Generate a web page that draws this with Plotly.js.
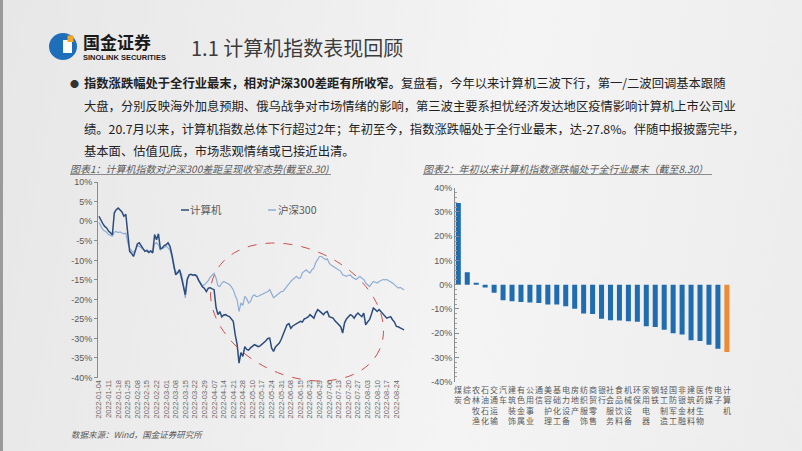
<!DOCTYPE html>
<html><head><meta charset="utf-8">
<script src="https://cdn.plot.ly/plotly-3.0.1.min.js"></script>
<style>
html,body{margin:0;padding:0;width:802px;height:451px;overflow:hidden;}
body{background:linear-gradient(100deg,#e7e7e7 0%,#eeeeee 35%,#f4f4f4 60%,#ececec 100%);position:relative;}
#strip{position:absolute;left:0;top:0;width:3px;height:451px;background:#9a9a9a;}
#chart{position:absolute;left:0;top:0;width:802px;height:451px;}
</style></head><body><div id="strip"></div><div id="chart"></div>
<script>
// ---------- data ----------
const dateTicks = ['2022-01-04','2022-01-11','2022-01-18','2022-01-25','2022-02-08','2022-02-15','2022-02-22','2022-03-01','2022-03-08','2022-03-15','2022-03-22','2022-03-29','2022-04-07','2022-04-14','2022-04-21','2022-04-28','2022-05-10','2022-05-17','2022-05-24','2022-05-31','2022-06-08','2022-06-15','2022-06-22','2022-06-29','2022-07-06','2022-07-13','2022-07-20','2022-07-27','2022-08-03','2022-08-10','2022-08-17','2022-08-24'];
const tradingDaysPerTick = 5;

const computerIdx = [
 1.3, 0.2, -0.6, -1.3, -1.7, -2.5, -3.0, -3.4, 2.2, 3.0,
 3.4, 3.0, 2.4, 1.3, 1.8, -3.0, -7.7, -8.2, -9.0, -7.5,
 -5.8, -5.5, -6.4, -7.0, -7.7, -7.5, -8.0, -7.6, -8.1, -3.4,
 -4.7, -3.2, -7.0, -6.8, -6.2, -6.0, -5.5, -6.4, -8.5, -11.5,
 -13.7, -13.2, -12.4, -14.5, -16.5, -18.8, -14.8, -13.7, -13.6, -13.8,
 -13.7, -14.1, -15.2, -16.2, -16.8, -17.2, -18.0, -17.1, -17.0, -17.3,
 -17.5, -22.0, -23.9, -23.1, -24.5, -24.0, -23.9, -24.2, -24.4, -25.0,
 -25.6, -29.0, -31.5, -36.3, -33.6, -34.6, -32.1, -32.8, -33.0, -32.4,
 -32.0, -31.6, -31.8, -32.1, -31.9, -31.5, -31.2, -30.6, -30.0, -29.9,
 -32.5, -33.3, -32.2, -31.8, -31.2, -30.2, -29.0, -27.5, -26.5, -26.2,
 -27.4, -26.8, -26.5, -26.3, -26.0, -25.6, -25.8, -25.0, -24.8, -24.5,
 -23.9, -24.3, -24.8, -23.5, -22.6, -23.0, -23.4, -23.9, -23.3, -23.1,
 -24.4, -24.6, -24.8, -25.5, -26.0, -26.5, -27.0, -28.6, -26.0, -25.0,
 -24.4, -23.9, -24.2, -24.8, -24.0, -23.5, -24.0, -24.4, -23.5, -26.5,
 -25.8, -25.2, -23.8, -22.2, -22.6, -23.1, -22.6, -23.2, -23.9, -24.4,
 -24.8, -24.6, -24.4, -25.2, -25.8, -26.9, -27.0, -27.3, -27.5, -27.8];

const hs300Idx = [
 -0.3, -1.2, -2.1, -2.5, -2.8, -3.4, -3.6, -3.8, -2.8, -2.6,
 -2.9, -2.7, -3.0, -3.2, -3.0, -5.5, -7.0, -7.5, -8.0, -7.3,
 -6.2, -6.4, -6.8, -7.3, -7.6, -7.3, -7.8, -7.5, -8.0, -5.8,
 -5.5, -6.0, -7.3, -7.0, -6.6, -6.4, -6.8, -7.4, -9.0, -12.0,
 -12.8, -13.3, -12.6, -13.5, -16.0, -19.6, -15.2, -13.7, -13.5, -13.9,
 -13.6, -13.8, -15.0, -15.9, -16.6, -16.2, -15.8, -15.2, -14.3, -13.7,
 -13.3, -14.5, -16.5, -16.7, -15.8, -15.4, -15.6, -15.9, -16.2, -16.8,
 -17.5, -19.0, -20.1, -23.1, -20.9, -21.5, -19.2, -19.8, -20.9, -20.5,
 -19.2, -18.8, -19.3, -19.2, -19.0, -18.8, -18.6, -18.4, -18.0, -17.5,
 -18.6, -19.6, -19.2, -18.8, -18.4, -18.0, -17.9, -17.2, -16.7, -16.0,
 -15.4, -14.9, -14.5, -14.1, -14.6, -14.5, -13.2, -12.8, -12.4, -12.9,
 -13.2, -12.4, -12.0, -10.5, -9.8, -9.0, -9.0, -9.4, -9.8, -9.6,
 -10.7, -11.2, -11.5, -11.8, -12.0, -12.4, -12.8, -13.7, -13.9, -14.1,
 -13.8, -13.7, -14.3, -14.5, -14.9, -14.5, -14.1, -14.6, -14.9, -15.8,
 -16.2, -16.7, -16.0, -15.4, -15.6, -15.8, -15.4, -15.1, -14.9, -15.0,
 -14.9, -15.2, -15.4, -15.8, -16.2, -16.7, -17.1, -16.9, -17.3, -17.6];

const leftYTicks = [10, 5, 0, -5, -10, -15, -20, -25, -30, -35, -40];

const industries = ['煤炭','综合','农林牧渔','石油石化','交通运输','汽车','建筑装饰','有色金属','公用事业','通信','美容护理','基础化工','电力设备','房地产','纺织服饰','商贸零售','银行','社会服务','食品饮料','机械设备','环保','家用电器','钢铁','轻工制造','国防军工','非银金融','建筑材料','医药生物','传媒','电子','计算机'];
const industryChg = [33.7, 5.1, 0.8, -1.2, -3.3, -6.4, -6.8, -7.1, -7.3, -7.5, -8.2, -8.2, -8.9, -9.9, -11.9, -12.1, -14.0, -14.7, -14.8, -15.1, -15.3, -17.1, -17.4, -18.6, -20.0, -20.5, -22.9, -23.2, -24.8, -26.4, -27.8];
const rightYTicks = [40, 30, 20, 10, 0, -10, -20, -30, -40];

// ---------- helpers (pixel -> paper) ----------
const W = 802, H = 451;
const P = x => x / W;
const Q = y => 1 - y / H;
const CJK = 'Noto Sans CJK SC, Noto Sans, sans-serif';
const LAT = 'Liberation Sans, Arial, sans-serif';

const dayIdx = computerIdx.map((_, i) => i);
const blue = '#1f6cb0', orange = '#ef8a35';

const traces = [
  {x: dayIdx, y: hs300Idx, type: 'scatter', mode: 'lines', name: '沪深300',
   line: {color: '#8eadd6', width: 1.2}, xaxis: 'x', yaxis: 'y', hoverinfo: 'skip'},
  {x: dayIdx, y: computerIdx, type: 'scatter', mode: 'lines', name: '计算机',
   line: {color: '#2b4c7e', width: 1.5}, xaxis: 'x', yaxis: 'y', hoverinfo: 'skip'},
  {x: industries, y: industryChg, type: 'bar', xaxis: 'x2', yaxis: 'y2',
   marker: {color: industries.map(n => n === '计算机' ? orange : blue)}, hoverinfo: 'skip'}
];

const annotations = [];
const shapes = [];
function txt(text, x, y, size, opts = {}) {
  annotations.push(Object.assign({
    text, x: P(x), y: Q(y), xref: 'paper', yref: 'paper', showarrow: false,
    xanchor: 'left', yanchor: 'middle', borderpad: 0,
    font: {family: opts.family || CJK, size, color: opts.color || '#262626'}
  }, opts.extra || {}));
}

// header
shapes.push({type: 'circle', xref: 'paper', yref: 'paper', x0: P(49), x1: P(77), y0: Q(60), y1: Q(33), fillcolor: '#1e6fba', line: {width: 0}});
shapes.push({type: 'rect', xref: 'paper', yref: 'paper', x0: P(63), x1: P(72), y0: Q(53), y1: Q(40), fillcolor: '#ffffff', line: {width: 0}});
shapes.push({type: 'rect', xref: 'paper', yref: 'paper', x0: P(67.5), x1: P(73.5), y0: Q(42), y1: Q(35.5), fillcolor: '#f5a623', line: {width: 0}});
txt('<b>国金证券</b>', 82, 41, 17, {color: '#1a1a1a'});
txt('<b>SINOLINK SECURITIES</b>', 82, 57.5, 7.5, {color: '#1a1a1a', family: LAT});
txt('1.1 计算机指数表现回顾', 190, 47, 20, {color: '#3c3c3c'});

// paragraph
txt('●', 69, 83, 9, {color: '#333'});
const para = [
  '<b>指数涨跌幅处于全行业最末，相对沪深300差距有所收窄。</b>复盘看，今年以来计算机三波下行，第一/二波回调基本跟随',
  '大盘，分别反映海外加息预期、俄乌战争对市场情绪的影响，第三波主要系担忧经济发达地区疫情影响计算机上市公司业',
  '绩。20.7月以来，计算机指数总体下行超过2年；年初至今，指数涨跌幅处于全行业最末，达-27.8%。伴随中报披露完毕，',
  '基本面、估值见底，市场悲观情绪或已接近出清。'
];
const paraY = [83.3, 106, 128.5, 150.5];
para.forEach((t, i) => txt(t, 83, paraY[i], 12.3, {color: '#222'}));

// chart titles
txt('<i>图表1：计算机指数对沪深300差距呈现收窄态势(截至8.30)</i>', 69, 168, 10, {color: '#595959'});
txt('<i>图表2：年初以来计算机指数涨跌幅处于全行业最末（截至8.30）</i>', 422, 168, 10, {color: '#595959'});
shapes.push({type: 'line', xref: 'paper', yref: 'paper', x0: P(70), x1: P(331), y0: Q(174.5), y1: Q(174.5), line: {color: '#8c8c8c', width: 1}});
shapes.push({type: 'line', xref: 'paper', yref: 'paper', x0: P(423), x1: P(712), y0: Q(174.5), y1: Q(174.5), line: {color: '#8c8c8c', width: 1}});

// source
txt('<i>数据来源：Wind，国金证券研究所</i>', 70, 434, 8.5, {color: '#595959'});

// custom legend for left chart
shapes.push({type: 'line', xref: 'paper', yref: 'paper', x0: P(181), x1: P(189), y0: Q(210), y1: Q(210), line: {color: '#2b4c7e', width: 1.5}});
shapes.push({type: 'line', xref: 'paper', yref: 'paper', x0: P(268), x1: P(276), y0: Q(210), y1: Q(210), line: {color: '#8eadd6', width: 1.5}});
txt('计算机', 189, 210, 10.5, {color: '#595959'});
txt('沪深300', 276.5, 210, 10.5, {color: '#595959'});

// red dashed ellipse (highlight)
(function () {
  const cx = 297, cy = 312, a = 90.7, b = 63.4, th = 24.8 * Math.PI / 180;
  let d = '';
  for (let k = 0; k <= 72; k++) {
    const t = k / 72 * 2 * Math.PI;
    const X = cx + a * Math.cos(t) * Math.cos(th) - b * Math.sin(t) * Math.sin(th);
    const Y = cy + a * Math.cos(t) * Math.sin(th) + b * Math.sin(t) * Math.cos(th);
    d += (k === 0 ? 'M' : 'L') + P(X).toFixed(5) + ',' + Q(Y).toFixed(5) + ' ';
  }
  shapes.push({type: 'path', xref: 'paper', yref: 'paper', path: d + 'Z', line: {color: '#c9504c', width: 1, dash: 'dash'}});
})();

// vertical category labels for right chart (one stacked label per industry)
industries.forEach(name => {
  annotations.push({text: Array.from(name).join('<br>'), x: name, xref: 'x2', y: Q(383), yref: 'paper',
    showarrow: false, xanchor: 'center', yanchor: 'top', borderpad: 0,
    font: {family: CJK, size: 8, color: '#595959'}});
});

const layout = {
  width: W, height: H, margin: {l: 0, r: 0, t: 0, b: 0},
  paper_bgcolor: 'rgba(0,0,0,0)', plot_bgcolor: 'rgba(0,0,0,0)',
  showlegend: false,
  xaxis: {domain: [P(98), P(405)], range: [-0.5, 159.5], tickmode: 'array',
    tickvals: dateTicks.map((_, i) => i * tradingDaysPerTick), ticktext: dateTicks,
    tickangle: -90, tickfont: {family: LAT, size: 7.5, color: '#666666'},
    showgrid: false, zeroline: false, showline: false, ticks: '', anchor: 'y'},
  yaxis: {domain: [Q(377.5), Q(182.3)], range: [-40, 10], tickmode: 'array',
    tickvals: leftYTicks, ticktext: leftYTicks.map(v => v + '%'),
    tickfont: {family: LAT, size: 9, color: '#595959'},
    showgrid: false, zeroline: false, showline: true, linecolor: '#8c8c8c', linewidth: 1,
    ticks: 'outside', ticklen: 3, tickcolor: '#8c8c8c', anchor: 'x'},
  xaxis2: {domain: [P(455), P(732.5)], range: [-0.37, 30.63], type: 'category',
    showticklabels: false, showgrid: false, zeroline: false, showline: false, ticks: '', anchor: 'y2'},
  yaxis2: {domain: [Q(381.7), Q(187.7)], range: [-40, 40], tickmode: 'array',
    tickvals: rightYTicks, ticktext: rightYTicks.map(v => v + '%'),
    tickfont: {family: LAT, size: 9, color: '#595959'},
    showgrid: false, zeroline: false, showline: true, linecolor: '#8c8c8c', linewidth: 1,
    ticks: 'inside', ticklen: 4, tickcolor: '#8c8c8c',
    minor: {ticks: 'inside', ticklen: 2, tickcolor: '#a0a0a0', dtick: 2, tick0: 0, tickmode: 'linear'},
    anchor: 'x2'},
  bargap: 0.44,
  annotations, shapes
};

Plotly.newPlot('chart', traces, layout, {staticPlot: true, displayModeBar: false});
</script>
</body></html>
